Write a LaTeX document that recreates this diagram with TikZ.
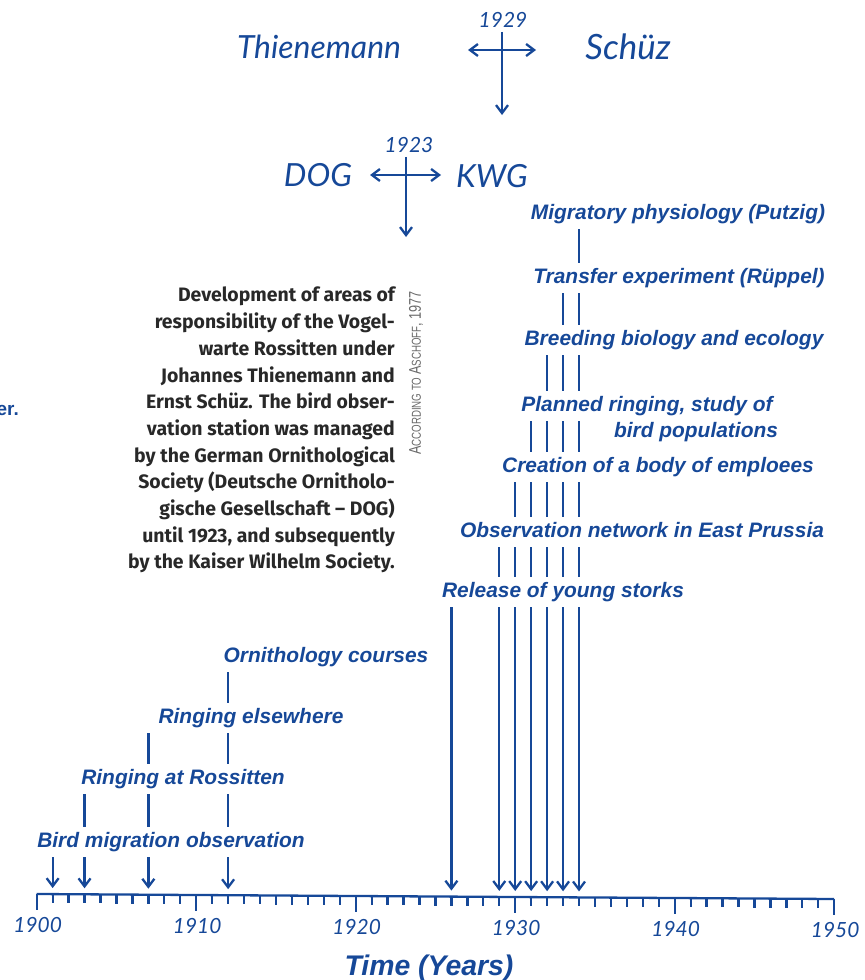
\documentclass[tikz,border=0pt]{standalone}
\usepackage{fontspec}
\usepackage{graphicx}
\setmainfont{Liberation Sans}
\newfontfamily\handfont{Lato}
\newfontfamily\capfont{Fira Sans}
\usetikzlibrary{arrows.meta, calc}
\definecolor{ink}{RGB}{22,72,152}
\definecolor{capgray}{RGB}{40,40,40}
\definecolor{srcgray}{RGB}{105,105,105}
\newcommand\minicaps[1]{{\fontsize{13}{13}\selectfont#1}}
\tikzset{event/.style={ink, font=\fontsize{21}{21}\selectfont\bfseries\itshape, text height=15bp, text depth=5bp, inner sep=5bp, anchor=base},
         person/.style={ink, font=\fontsize{32}{32}\selectfont\handfont\itshape, inner sep=0pt},
         yearlab/.style={ink, font=\fontsize{21}{21}\selectfont\handfont\itshape, inner sep=4bp},
         ln/.style={ink, line width=2.3bp},
         arrowln/.style={ln, -{Straight Barb[length=8bp,width=12bp]}},
         totick/.style={arrowln, shorten >=6bp},
         darrow/.style={ln, {Straight Barb[length=8bp,width=12bp]}-{Straight Barb[length=8bp,width=12bp]}},
         caption/.style={capgray, font=\fontsize{19.5}{26.8}\selectfont\capfont\bfseries, align=right, inner sep=0pt},
         source/.style={srcgray, font=\fontsize{17}{17}\selectfont, inner sep=0pt},
        }

\begin{document}
\begin{tikzpicture}[x=1bp, y=-1bp]
        \useasboundingbox(0,0)rectangle(865,980);
        % 1929: Thienemann -> Schuez
        \node[person](thm)at(319,47){Thienemann};
        \node[person, font=\fontsize{35}{35}\selectfont\handfont\itshape](sch)at(628,47){Schüz};
        \node[yearlab](d29)at(503,20){1929};
        \coordinate(c29)at(502,115);
        \coordinate(c29l)at(468,50);
        \coordinate(c29r)at(536,50);
        \draw[arrowln](d29.south-|c29)--(c29);
        \draw[darrow](c29l)--(c29r);

        % 1923: DOG -> KWG
        \node[person](dog)at(318,175){DOG};
        \node[person](kwg)at(492,176){KWG};
        \node[yearlab](d23)at(409,145){1923};
        \coordinate(c23)at(406,237);
        \coordinate(c23l)at(370,175);
        \coordinate(c23r)at(441,175);
        \draw[arrowln](d23.south-|c23)--(c23);
        \draw[darrow](c23l)--(c23r);

        \node[caption, anchor=north east](cap)at(395,287){Development of areas of\\responsibility of the Vogel-\\warte Rossitten under\\Johannes Thienemann and\\Ernst Schüz. The bird obser-\\vation station was managed\\by the German Ornithological\\Society (Deutsche Ornitholo-\\gische Gesellschaft – DOG)\\until 1923, and subsequently\\by the Kaiser Wilhelm Society.};
        \node[source, rotate=90](src)at(416,373){\scalebox{0.75}[1]{A\minicaps{CCORDING TO }A\minicaps{SCHOFF}, 1977}};
        \node[ink, font=\fontsize{19}{19}\selectfont\bfseries, inner sep=0pt, anchor=base east](er)at(19,415){er.};

        % time axis
        \foreach \i in {0,...,50}
            \coordinate(a\i)at({36.7+15.95*\i},{894+0.1*\i});
        \draw[ln](a0)--(a50);
        \foreach \i in {0,...,50}
            \draw[ln](a\i)--++(0,9);
        \foreach \i in {0,10,...,50}{
            \draw[ln](a\i)--++(0,16);
            \pgfmathtruncatemacro\yr{1900+\i}
            \node[yearlab, inner sep=0pt](y\i)at($(a\i)+(1,31)$){\yr};
        }
        \node[ink, font=\fontsize{28.5}{28.5}\selectfont\bfseries\itshape, inner sep=0pt, anchor=base](ttl)at(429,975){Time (Years)};

        % events before 1923
        \node[event](f1)at(326,662){Ornithology courses};
        \node[event](f2)at(251,723){Ringing elsewhere};
        \node[event](f3)at(183,784){Ringing at Rossitten};
        \node[event](f4)at(171,847){Bird migration observation};
        \foreach \u/\l/\ys in {f1/f2/{12}, f2/f3/{12,7}, f3/f4/{12,7,3}}
            \foreach \y in \ys
                \draw[ln](\u.south-|a\y)--(\l.north-|a\y);
        \foreach \y in {12,7,3,1}
            \draw[totick](f4.south-|a\y)--(a\y);

        % events after 1923
        \node[event](e1)at(678,219){Migratory physiology (Putzig)};
        \node[event](e2)at(679,283){Transfer experiment (Rüppel)};
        \node[event](e3)at(674,345){Breeding biology and ecology};
        \node[event](e4)at(647,411){Planned ringing, study of};
        \node[event](e4b)at(696,437){bird populations};
        \node[event](e5)at(658,472){Creation of a body of emploees};
        \node[event](e6)at(642,537){Observation network in East Prussia};
        \node[event](e7)at(563,597){Release of young storks};
        \foreach \u/\l/\ys in {e1/e2/{34}, e2/e3/{34,33}, e3/e4/{34,33,32}, e4/e5/{34,33,32,31}, e5/e6/{34,33,32,31,30}, e6/e7/{34,33,32,31,30,29}}
            \foreach \y in \ys
                \draw[ln](\u.south-|a\y)--(\l.north-|a\y);
        \foreach \y in {34,33,32,31,30,29,26}
            \draw[totick](e7.south-|a\y)--(a\y);
    \end{tikzpicture}
\end{document}
